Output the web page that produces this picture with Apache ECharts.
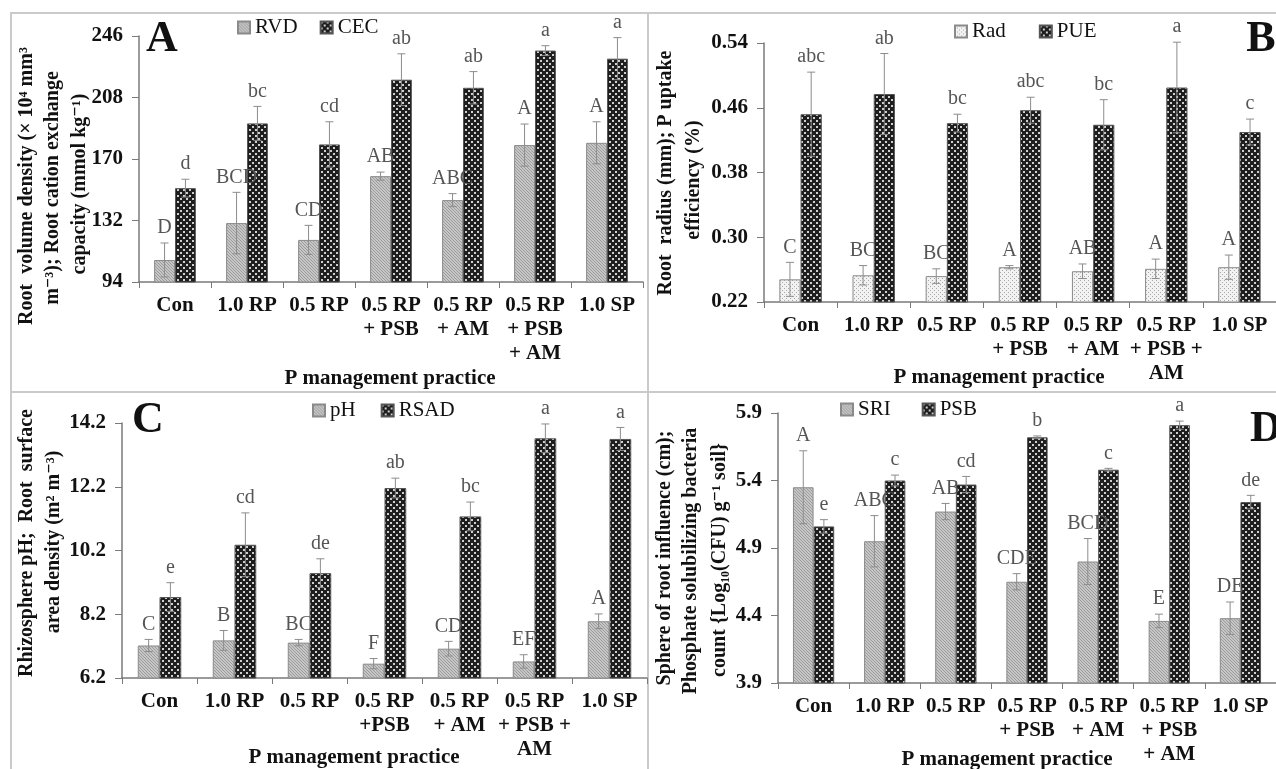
<!DOCTYPE html>
<html>
<head>
<meta charset="utf-8">
<script src="https://cdn.jsdelivr.net/npm/echarts@6/dist/echarts.min.js"></script>
<style>
  html, body { margin: 0; padding: 0; background: #fff; }
  #main { width: 1276px; height: 769px; }
</style>
</head>
<body>
<div id="main"></div>
<script>
// categories (x tick labels) per panel
var catsA = ['Con', '1.0 RP', '0.5 RP', '0.5 RP\n+ PSB', '0.5 RP\n+ AM', '0.5 RP\n+ PSB\n+ AM', '1.0 SP'];
var catsB = ['Con', '1.0 RP', '0.5 RP', '0.5 RP\n+ PSB', '0.5 RP\n+ AM', '0.5 RP\n+ PSB +\nAM', '1.0 SP'];
var catsC = ['Con', '1.0 RP', '0.5 RP', '0.5 RP\n+PSB', '0.5 RP\n+ AM', '0.5 RP\n+ PSB +\nAM', '1.0 SP'];
var catsD = ['Con', '1.0 RP', '0.5 RP', '0.5 RP\n+ PSB', '0.5 RP\n+ AM', '0.5 RP\n+ PSB\n+ AM', '1.0 SP'];

// A: root volume density / CEC
var rvd = [107.6, 130.4, 120, 159.4, 144.6, 178.6, 180];
var rvdErr = [10.5, 19, 9, 2.5, 4, 13, 13];
var rvdSig = ['D', 'BCD', 'CD', 'AB', 'ABC', 'A', 'A'];
var cec = [152, 192, 179, 219, 214, 237, 232];
var cecErr = [5.5, 10.5, 14, 16, 10, 3, 13];
var cecSig = ['d', 'bc', 'cd', 'ab', 'ab', 'a', 'a'];

// B: root radius / P uptake efficiency
var rad = [0.248, 0.253, 0.252, 0.263, 0.258, 0.261, 0.263];
var radErr = [0.021, 0.012, 0.009, 0.002, 0.009, 0.012, 0.015];
var radSig = ['C', 'BC', 'BC', 'A', 'AB', 'A', 'A'];
var pue = [0.452, 0.477, 0.441, 0.457, 0.439, 0.485, 0.430];
var pueErr = [0.052, 0.05, 0.011, 0.016, 0.031, 0.056, 0.016];
var pueSig = ['abc', 'ab', 'bc', 'abc', 'bc', 'a', 'c'];

// C: rhizosphere pH / RSAD
var ph = [7.22, 7.38, 7.31, 6.65, 7.12, 6.72, 7.98];
var phErr = [0.19, 0.31, 0.1, 0.16, 0.23, 0.21, 0.23];
var phSig = ['C', 'B', 'BC', 'F', 'CD', 'EF', 'A'];
var rsad = [8.74, 10.38, 9.49, 12.16, 11.27, 13.72, 13.70];
var rsadErr = [0.45, 1.0, 0.45, 0.31, 0.45, 0.45, 0.36];
var rsadSig = ['e', 'cd', 'de', 'ab', 'bc', 'a', 'a'];

// D: sphere of root influence / PSB count
var sri = [5.35, 4.95, 5.17, 4.65, 4.80, 4.36, 4.38];
var sriErr = [0.27, 0.19, 0.06, 0.06, 0.17, 0.05, 0.12];
var sriSig = ['A', 'ABC', 'AB', 'CDE', 'BCD', 'E', 'DE'];
var psb = [5.06, 5.40, 5.37, 5.72, 5.48, 5.81, 5.24];
var psbErr = [0.05, 0.04, 0.06, 0.01, 0.01, 0.03, 0.05];
var psbSig = ['e', 'c', 'cd', 'b', 'c', 'a', 'de'];

// y tick labels
var ticksA = [94, 132, 170, 208, 246];
var ticksB = [0.22, 0.30, 0.38, 0.46, 0.54];
var ticksC = [6.2, 8.2, 10.2, 12.2, 14.2];
var ticksD = [3.9, 4.4, 4.9, 5.4, 5.9];

var SERIF = '"Liberation Serif", "DejaVu Serif", "Times New Roman", serif';
var BAR = 0.29; // each bar as share of category width

function makePattern(size, bg, fg, dots) {
  var c = document.createElement('canvas');
  c.width = c.height = size;
  var g = c.getContext('2d');
  g.fillStyle = bg;
  g.fillRect(0, 0, size, size);
  g.fillStyle = fg;
  dots.forEach(function (d) { g.fillRect(d[0], d[1], d[2], d[3]); });
  return { image: c, repeat: 'repeat' };
}
var patDark = makePattern(6, '#1e1e1e', '#cfcfcf', [[0, 0, 2, 2], [3, 3, 2, 2]]);
var patGrey = makePattern(3, '#c6c6c6', '#9c9c9c', [[0, 0, 1, 1], [1, 1, 1, 1], [2, 2, 1, 1]]);
var patLight = makePattern(4, '#f2f2f2', '#a8a8a8', [[0, 0, 1, 1], [2, 2, 1, 1]]);

function barSeries(name, g, data, color, border) {
  return {
    type: 'bar', name: name, xAxisIndex: g, yAxisIndex: g, data: data,
    barGap: '0%', barCategoryGap: '42%', silent: true,
    itemStyle: { color: color, borderColor: border, borderWidth: 1 }
  };
}

function errSeries(g, v0, e0, s0, v1, e1, s1) {
  var data = [], sig = [];
  v0.forEach(function (v, i) { data.push([i, v, e0[i], 0]); sig.push(s0[i]); });
  v1.forEach(function (v, i) { data.push([i, v, e1[i], 1]); sig.push(s1[i]); });
  return {
    type: 'custom', xAxisIndex: g, yAxisIndex: g, z: 5, silent: true,
    data: data, encode: { x: 0, y: 1 },
    renderItem: function (params, api) {
      var i = api.value(0), v = api.value(1), e = api.value(2), s = api.value(3);
      var w = api.size([1, 0])[0] * BAR;
      var x = api.coord([i, v])[0] + (s === 0 ? -w / 2 : w / 2);
      var yt = api.coord([i, v + e])[1];
      var yb = api.coord([i, v - e])[1];
      var st = { stroke: '#8c8c8c', lineWidth: 1 };
      return {
        type: 'group',
        children: [
          { type: 'line', shape: { x1: x, y1: yt, x2: x, y2: yb }, style: st },
          { type: 'line', shape: { x1: x - 4, y1: yt, x2: x + 4, y2: yt }, style: st },
          { type: 'line', shape: { x1: x - 4, y1: yb, x2: x + 4, y2: yb }, style: st },
          {
            type: 'text', x: x, y: yt - 5,
            style: {
              text: sig[params.dataIndex], fontFamily: SERIF, fontSize: 20,
              fill: '#555', align: 'center', verticalAlign: 'bottom'
            }
          }
        ]
      };
    }
  };
}

function xAxis(g, cats) {
  return {
    type: 'category', gridIndex: g, data: cats,
    axisLine: { lineStyle: { color: '#7a7a7a', width: 1.5 } },
    axisTick: { show: true, length: 6, lineStyle: { color: '#7a7a7a' } },
    axisLabel: {
      interval: 0, fontFamily: SERIF, fontWeight: 'bold', fontSize: 21,
      lineHeight: 24, color: '#111', margin: 12
    }
  };
}

function yAxis(g, ticks, dec) {
  return {
    type: 'value', gridIndex: g, min: ticks[0], max: ticks[ticks.length - 1],
    interval: ticks[1] - ticks[0],
    axisLine: { show: true, lineStyle: { color: '#7a7a7a', width: 1.5 } },
    axisTick: { show: true, length: 7, customValues: ticks, lineStyle: { color: '#7a7a7a' } },
    axisLabel: {
      customValues: ticks, fontFamily: SERIF, fontWeight: 'bold', fontSize: 21,
      color: '#111', margin: 16,
      formatter: function (v) { return v.toFixed(dec); }
    },
    splitLine: { show: false }
  };
}

function legend(names, left, top, gap) {
  return {
    data: names, left: left, top: top, padding: 0, itemGap: gap,
    itemWidth: 12, itemHeight: 12, icon: 'rect', selectedMode: false,
    textStyle: { fontFamily: SERIF, fontSize: 21, color: '#111' }
  };
}

function vText(x, y, text) {
  return {
    type: 'text', x: x, y: y, rotation: Math.PI / 2, silent: true,
    style: {
      text: text, fontFamily: SERIF, fontWeight: 'bold', fontSize: 20,
      fill: '#111', align: 'center', verticalAlign: 'middle'
    }
  };
}
function hText(x, y, text, size) {
  return {
    type: 'text', x: x, y: y, silent: true,
    style: {
      text: text, fontFamily: SERIF, fontWeight: 'bold', fontSize: size,
      fill: '#111', align: 'center', verticalAlign: 'middle'
    }
  };
}
function line(x1, y1, x2, y2) {
  return { type: 'line', silent: true, shape: { x1: x1, y1: y1, x2: x2, y2: y2 }, style: { stroke: '#cacaca', lineWidth: 2 } };
}

var chart = echarts.init(document.getElementById('main'));
chart.setOption({
  animation: false,
  backgroundColor: '#fff',
  grid: [
    { left: 139, top: 36, width: 504, height: 246 },
    { left: 764, top: 43, width: 527, height: 259 },
    { left: 122, top: 423, width: 525, height: 255 },
    { left: 778, top: 413, width: 511, height: 270 }
  ],
  xAxis: [xAxis(0, catsA), xAxis(1, catsB), xAxis(2, catsC), xAxis(3, catsD)],
  yAxis: [yAxis(0, ticksA, 0), yAxis(1, ticksB, 2), yAxis(2, ticksC, 1), yAxis(3, ticksD, 1)],
  legend: [
    legend(['RVD', 'CEC'], 237, 17, 22),
    legend(['Rad', 'PUE'], 954, 21, 33),
    legend(['pH', 'RSAD'], 312, 400, 25),
    legend(['SRI', 'PSB'], 840, 399, 31)
  ],
  series: [
    barSeries('RVD', 0, rvd, patGrey, '#8a8a8a'),
    barSeries('CEC', 0, cec, patDark, '#555'),
    barSeries('Rad', 1, rad, patLight, '#8a8a8a'),
    barSeries('PUE', 1, pue, patDark, '#555'),
    barSeries('pH', 2, ph, patGrey, '#8a8a8a'),
    barSeries('RSAD', 2, rsad, patDark, '#555'),
    barSeries('SRI', 3, sri, patGrey, '#8a8a8a'),
    barSeries('PSB', 3, psb, patDark, '#555'),
    errSeries(0, rvd, rvdErr, rvdSig, cec, cecErr, cecSig),
    errSeries(1, rad, radErr, radSig, pue, pueErr, pueSig),
    errSeries(2, ph, phErr, phSig, rsad, rsadErr, rsadSig),
    errSeries(3, sri, sriErr, sriSig, psb, psbErr, psbSig)
  ],
  graphic: [
    // panel frames
    line(10, 13, 1276, 13),
    line(11, 13, 11, 769),
    line(648, 13, 648, 769),
    line(10, 392, 1276, 392),
    // panel letters
    hText(162, 40, 'A', 44),
    hText(1261, 40, 'B', 44),
    hText(148, 421, 'C', 44),
    hText(1266, 430, 'D', 44),
    // x titles
    hText(390, 379, 'P management practice', 21),
    hText(999, 378, 'P management practice', 21),
    hText(354, 758, 'P management practice', 21),
    hText(1007, 760, 'P management practice', 21),
    // y titles
    vText(27, 186, 'Root  volume density (\u00d7 10\u2074 mm\u00b3'),
    vText(53, 188, 'm\u207b\u00b3); Root cation exchange'),
    vText(80, 184, 'capacity (mmol kg\u207b\u00b9)'),
    vText(666, 173, 'Root  radius (mm); P uptake'),
    vText(694, 180, 'efficiency (%)'),
    vText(27, 543, 'Rhizosphere pH;  Root  surface'),
    vText(54, 542, 'area density (m\u00b2 m\u207b\u00b3)'),
    vText(665, 558, 'Sphere of root influence (cm);'),
    vText(691, 561, 'Phosphate solubilizing bacteria'),
    vText(720, 560, 'count {Log\u2081\u2080(CFU) g\u207b\u00b9 soil}')
  ]
});
</script>
</body>
</html>
